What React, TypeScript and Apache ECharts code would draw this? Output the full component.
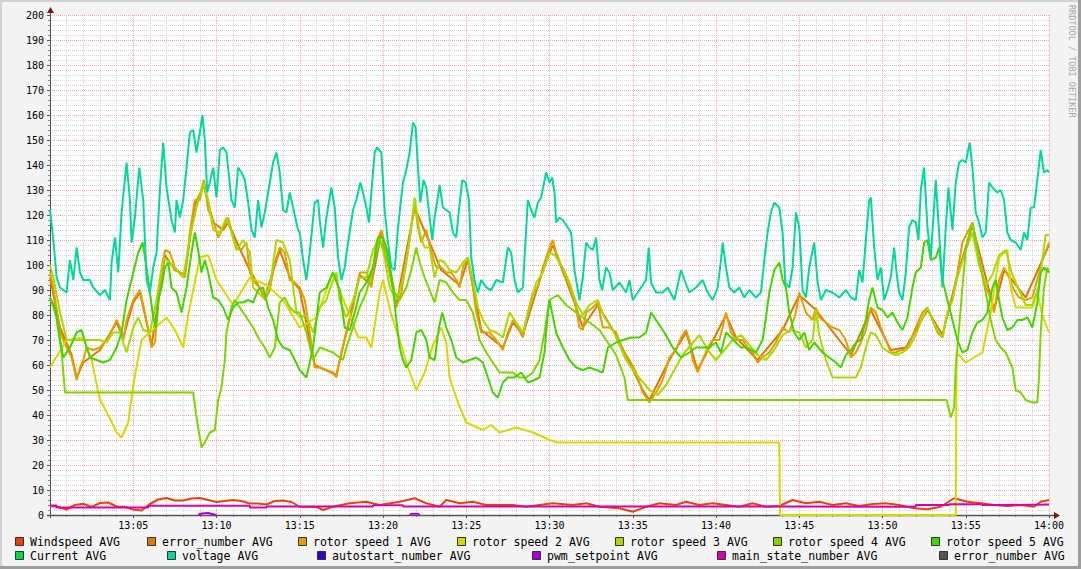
import React, { useEffect, useRef } from "react";
import * as echarts from "echarts";

type P = [number, number | string];

// time in minutes after 13:00, value
const windspeed: P[] = [[0,3.6],[0.5,3.2],[1,2.2],[1.5,4],[2,4.5],[2.5,3.2],[3,4.8],[3.5,5],[4,3.4],[4.5,3.2],[5,2.2],[5.5,1.8],[6,4.4],[6.5,6.2],[7,6.8],[7.5,5.8],[8,5.8],[8.5,6.6],[9,6.8],[9.5,6],[10,5.2],[10.5,5.6],[11,6],[11.5,5.6],[12,4.6],[12.5,4.6],[13,4.2],[13.5,5.6],[14,5.8],[14.5,5.2],[15,3.3],[16,3.2],[16.4,2],[17,3.3],[18,4.7],[19,5.3],[19.8,4],[21,5.3],[21.9,6.7],[22.6,4.7],[23.4,3.3],[23.8,6],[24.6,4.7],[25.4,5.3],[26.2,4],[27,4],[27.8,4],[28.6,3.3],[29.4,4],[30.2,4.7],[31.4,4],[32.2,4.7],[33,3.3],[34.2,2.7],[35,1.3],[35.8,3.3],[36.6,4.7],[37.6,4],[38.2,5.3],[39,4],[39.8,4.7],[40.6,4],[41.4,3.3],[42.2,4.7],[43,3.3],[43.8,3.6],[44.6,6],[45.4,4.7],[46.2,5.3],[47,4],[47.8,4.7],[48.6,3.6],[49.4,4.4],[50.2,4.7],[51,4],[51.9,2.7],[52.7,2.3],[53.5,3.3],[54.3,6.7],[55.1,5.3],[55.9,4.7],[56.7,4],[57.5,3.6],[58.3,4],[59.1,3.3],[59.5,5.3],[60,6]];

const errorNumber: P[] = [[0,95],[0.6,75],[1.3,64],[1.6,55],[2,61],[3,66],[4,77],[4.4,71],[5,85],[5.4,89],[6.1,68],[6.6,90],[6.9,104],[7.5,98],[8.1,96],[8.7,124],[9.24,132],[9.8,117],[10.4,114],[10.7,117],[11.5,105],[12,98],[12.9,87],[13.8,106],[14.4,95],[15,90],[15.9,60],[17.2,56],[18.6,96],[19.3,92],[19.9,113],[20.8,84],[21.9,123],[22.6,112],[23.5,98],[24.6,92],[25.1,102],[25.9,74],[27.2,67],[27.8,77],[28.4,72],[29.6,98],[30.2,108],[31.5,85],[32,75],[32.9,84],[34,72],[35.6,50],[36,46],[37.2,62],[38.2,73],[38.9,58],[40.6,80],[41.2,71],[42.5,62],[44,74],[45,88],[46,82],[48.1,64],[49.3,82],[50.5,66],[51.4,67],[52.7,82],[53.6,72],[54.5,96],[55.4,116],[56.7,82],[57.3,98],[58.6,87],[60,108]];

const rotor1: P[] = [[0,97],[0.2,91],[0.6,73],[1,67],[1.3,63],[1.6,54],[1.8,59],[2,62],[2.2,67],[2.6,66],[3,67],[3.4,70],[3.8,75],[4,78],[4.2,75],[4.4,70],[4.6,78],[5,86],[5.4,90],[5.7,81],[5.9,74],[6.1,67],[6.3,69],[6.6,91],[6.9,106],[7.2,105],[7.5,99],[7.8,97],[8.1,95],[8.4,113],[8.7,126],[9,126],[9.24,134],[9.5,122],[9.8,118],[10.1,111],[10.4,115],[10.7,119],[11,111],[11.2,107],[11.5,106],[11.8,109],[12,97],[12.3,93],[12.6,91],[12.9,86],[13.2,90],[13.5,101],[13.8,107],[14.1,105],[14.4,94],[14.7,93],[15,91],[15.3,86],[15.6,73],[15.9,59],[16.2,59],[16.6,58],[17,57],[17.2,55],[17.4,62],[17.8,73],[18.2,83],[18.6,97],[19,97],[19.3,91],[19.6,109],[19.9,114],[20.2,105],[20.5,94],[20.8,83],[21.1,89],[21.4,101],[21.7,115],[21.9,125],[22.1,115],[22.3,109],[22.6,114],[22.9,105],[23.2,99],[23.5,99],[23.8,97],[24.1,97],[24.4,94],[24.6,91],[24.8,99],[25.1,103],[25.4,91],[25.6,81],[25.9,73],[26.4,73],[26.8,70],[27.2,66],[27.5,73],[27.8,78],[28.1,75],[28.4,71],[28.7,81],[29,89],[29.3,91],[29.6,99],[30,107],[30.2,110],[30.4,105],[30.8,98],[31.2,91],[31.5,86],[31.8,75],[32,74],[32.2,81],[32.6,83],[32.9,85],[33.2,75],[33.6,75],[34,73],[34.4,66],[34.8,62],[35.2,57],[35.6,49],[36,45],[36.4,49],[36.8,54],[37.2,63],[37.6,66],[37.9,71],[38.2,74],[38.4,70],[38.6,62],[38.9,57],[39.2,62],[39.5,67],[39.8,70],[40.2,70],[40.4,75],[40.6,81],[40.9,73],[41.2,70],[41.6,70],[41.9,67],[42.2,65],[42.5,61],[42.8,63],[43.2,65],[43.6,69],[44,75],[44.4,73],[44.8,81],[45,89],[45.4,81],[45.8,78],[46,83],[46.2,79],[46.6,77],[47,75],[47.4,74],[47.8,70],[48.1,63],[48.4,65],[48.7,69],[49,74],[49.3,83],[49.6,81],[49.9,75],[50.2,70],[50.5,65],[50.8,65],[51.1,66],[51.4,66],[51.7,70],[52,75],[52.4,81],[52.7,83],[53,78],[53.3,73],[53.6,71],[53.9,81],[54.2,86],[54.5,97],[54.8,109],[55.1,113],[55.4,117],[55.6,109],[55.9,99],[56.2,91],[56.5,87],[56.7,81],[57,94],[57.3,99],[57.6,95],[57.9,90],[58.2,87],[58.6,86],[59,87],[59.3,94],[59.6,102],[59.9,107],[60,109]];

const rotor2: P[] = [[0,59],[1,70],[2,71],[2.5,62],[3,46],[3.5,40],[4,33],[4.3,31],[4.7,37],[5,52],[5.5,70],[6,73],[7,79],[7.5,74],[8,67],[8.3,80],[9,103],[9.5,104],[10,94],[11,84],[12,95],[13,92],[14,86],[15,75],[16,79],[17,97],[17.5,88],[18,80],[18.5,71],[19,71],[19.3,67],[19.8,89],[20,94],[20.5,80],[21,70],[21.5,59],[22,50],[22.5,57],[23,68],[23.5,75],[23.8,69],[24,55],[24.5,45],[25,37],[26,34],[26.5,36],[27,33],[28,35],[29,33],[29.7,31],[30,30],[30.5,29],[43.8,29],[43.85,0],[54.4,0],[54.45,65],[55,61],[56,65],[56.5,81],[57,103],[57.5,106],[57.7,91],[58,83],[59,83],[59.3,89],[59.6,80],[60,73]];

const rotor3: P[] = [[0,100],[0.2,95],[0.6,81],[1,70],[1.4,70],[2,70],[2.6,70],[3,70],[3.4,69],[3.8,73],[4.2,73],[4.6,65],[5,75],[5.3,79],[5.6,74],[6,73],[6.4,86],[6.8,103],[7.2,101],[7.6,98],[8,95],[8.4,111],[8.8,123],[9.2,133],[9.5,126],[9.8,114],[10.2,113],[10.6,119],[10.9,113],[11.2,106],[11.6,110],[12,105],[12.2,91],[12.8,87],[13.2,91],[13.6,110],[14,109],[14.4,102],[14.8,81],[15,79],[15.4,80],[15.8,73],[16.2,83],[16.6,86],[17,94],[17.2,97],[17.4,86],[17.8,79],[18.2,86],[18.6,95],[19,95],[19.4,106],[19.8,111],[20.1,103],[20.4,91],[20.8,86],[21.2,94],[21.6,110],[21.9,127],[22.2,113],[22.5,107],[22.8,107],[23.1,95],[23.4,102],[23.7,101],[24,98],[24.4,97],[24.8,101],[25.1,103],[25.4,94],[25.7,83],[26,78],[26.4,74],[26.8,73],[27.2,71],[27.6,81],[28,77],[28.4,73],[28.8,83],[29.2,93],[29.6,97],[30,105],[30.3,104],[30.8,99],[31.2,93],[31.6,85],[32,80],[32.4,84],[32.9,86],[33.3,79],[33.8,74],[34.2,68],[34.6,62],[35,58],[35.5,54],[36,50],[36.5,48],[37,52],[37.5,58],[38,64],[38.5,68],[39,72],[39.5,66],[40,62],[40.5,66],[41,70],[41.5,72],[42,68],[42.5,64],[43,62],[43.5,66],[44,72],[44.5,74],[45,73],[45.4,67],[45.8,70],[46,82],[46.2,72],[46.6,62],[47,55],[47.6,55],[48.4,55],[48.7,59],[49,67],[49.3,73],[49.6,72],[50,67],[50.4,65],[50.8,64],[51.2,65],[51.6,67],[52,72],[52.4,79],[52.7,83],[53,78],[53.4,73],[53.6,71],[53.9,81],[54.2,86],[54.5,95],[55,106],[55.4,113],[55.8,100],[56.2,92],[56.6,96],[57,104],[57.4,106],[57.8,96],[58.2,90],[58.6,84],[59,84],[59.4,92],[59.8,112],[60,112]];

const rotor4: P[] = [[0,87],[0.4,79],[0.7,65],[0.9,49],[8.6,49],[8.8,39],[9.1,27],[9.3,29],[9.6,33],[9.9,34],[10.1,46],[10.3,51],[10.5,62],[10.6,73],[10.9,83],[11.1,86],[11.4,83],[11.8,79],[12.2,75],[12.5,71],[12.9,67],[13.2,63],[13.5,67],[13.8,85],[14.1,87],[14.4,83],[14.7,81],[15,81],[15.4,73],[15.8,62],[16.2,67],[16.6,66],[17,65],[17.4,63],[17.6,62],[17.8,67],[18.2,75],[18.6,83],[19,89],[19.4,99],[19.8,110],[20.1,106],[20.4,99],[20.7,89],[21,86],[21.4,91],[21.7,98],[22,107],[22.2,101],[22.5,95],[22.8,90],[23.1,85],[23.4,94],[23.8,93],[24.2,89],[24.6,86],[25,86],[25.4,81],[25.8,70],[26.2,65],[26.6,61],[27,57],[27.4,57],[27.8,57],[28.2,55],[28.6,55],[29,57],[29.4,62],[29.7,73],[30,86],[30.5,88],[31,84],[32,79],[33,74],[34,64],[34.5,55],[34.7,46],[53.85,46],[54.1,39],[54.3,43],[54.4,59],[54.8,91],[55,106],[55.3,115],[55.4,117],[55.6,110],[55.9,99],[56.2,89],[56.5,78],[56.8,70],[57.1,67],[57.4,65],[57.8,59],[58,50],[58.3,49],[58.6,46],[59,45],[59.3,45],[59.4,55],[59.5,73],[59.7,91],[59.9,99],[60,97]];

const rotor5: P[] = [[0,87],[0.3,83],[0.6,70],[0.8,63],[1.2,67],[1.6,73],[1.9,74],[2.2,67],[2.4,63],[2.8,62],[3.2,61],[3.6,62],[4,67],[4.3,73],[4.6,86],[5,97],[5.3,105],[5.56,109],[5.8,99],[6,89],[6.2,79],[6.36,75],[6.5,86],[6.7,91],[6.9,99],[7.1,101],[7.3,91],[7.6,89],[7.9,81],[8.2,91],[8.5,105],[8.7,113],[8.9,106],[9.1,97],[9.3,102],[9.5,97],[9.8,87],[10.1,86],[10.4,83],[10.7,78],[11,83],[11.3,85],[11.6,85],[11.9,86],[12.2,85],[12.5,90],[12.8,91],[13.1,83],[13.4,78],[13.7,70],[14,67],[14.4,66],[14.7,62],[15,58],[15.4,55],[15.8,67],[16.2,89],[16.6,91],[17,97],[17.4,90],[17.7,75],[18,74],[18.3,81],[18.6,89],[19,93],[19.4,99],[19.7,111],[20,111],[20.3,105],[20.6,91],[20.8,78],[21,67],[21.2,62],[21.4,59],[21.7,62],[22,73],[22.3,74],[22.6,70],[22.8,63],[23.1,62],[23.36,75],[23.56,81],[23.8,75],[24.1,70],[24.4,63],[24.8,61],[25.2,62],[25.6,63],[26,61],[26.3,55],[26.6,49],[26.9,47],[27.2,53],[27.5,55],[27.9,55],[28.3,57],[28.7,53],[29.1,54],[29.4,55],[29.7,65],[29.9,81],[30,86],[30.4,73],[30.8,67],[31.2,62],[31.6,59],[32,58],[32.4,59],[32.8,58],[33.2,57],[33.5,67],[34,69],[34.4,70],[34.9,71],[35.4,71],[35.8,73],[36.1,81],[36.4,78],[36.9,73],[37.4,67],[37.9,63],[38.4,65],[38.8,67],[39.6,67],[40,69],[40.3,65],[40.6,73],[40.9,71],[41.2,69],[41.5,67],[41.8,67],[42.1,66],[42.4,65],[42.8,70],[43,79],[43.2,89],[43.5,98],[43.8,101],[44,94],[44.2,91],[44.4,81],[44.7,73],[45,70],[45.3,73],[45.6,66],[45.9,69],[46.4,65],[46.8,63],[47.2,61],[47.5,59],[47.8,64],[48.1,66],[48.4,69],[48.7,70],[49,78],[49.2,86],[49.4,91],[49.7,83],[50,82],[50.3,79],[50.6,81],[50.9,77],[51.2,74],[51.5,79],[51.8,91],[52,97],[52.3,99],[52.5,109],[52.7,110],[52.9,102],[53.2,103],[53.4,107],[53.6,94],[53.9,86],[54.2,78],[54.5,70],[54.8,65],[55.1,66],[55.4,73],[55.7,77],[56,78],[56.3,81],[56.6,91],[56.8,94],[57,86],[57.2,79],[57.5,74],[57.8,75],[58.1,78],[58.4,78],[58.7,79],[59,75],[59.3,85],[59.5,97],[59.7,99],[60,97]];

const current: P[] = [];

const voltage: P[] = [[0,122],[0.2,110],[0.4,95],[0.6,91],[1,89],[1.1,96],[1.2,102],[1.4,94],[1.6,107],[1.8,97],[2,94],[2.4,94],[2.6,91],[3,88],[3.3,90],[3.6,86],[3.7,101],[3.9,111],[4.1,97],[4.3,121],[4.6,141],[4.8,126],[4.9,109],[5.1,119],[5.36,139],[5.6,126],[5.8,94],[6,89],[6.2,99],[6.4,105],[6.6,130],[6.8,149],[7,131],[7.3,118],[7.5,113],[7.6,126],[7.8,119],[8,126],[8.2,139],[8.4,153],[8.6,154],[8.8,145],[9,153],[9.16,160],[9.3,150],[9.44,129],[9.6,133],[9.8,139],[10,127],[10.2,146],[10.4,147],[10.6,145],[10.9,126],[11.1,123],[11.3,139],[11.5,137],[11.7,134],[11.9,125],[12.1,114],[12.3,111],[12.5,126],[12.7,115],[12.9,121],[13.2,133],[13.4,141],[13.6,145],[13.8,137],[14,122],[14.2,121],[14.4,129],[14.6,123],[14.9,114],[15,113],[15.2,102],[15.4,94],[15.6,105],[15.9,125],[16.1,126],[16.2,118],[16.4,107],[16.6,119],[16.9,131],[17.1,123],[17.3,103],[17.5,94],[17.7,99],[17.9,109],[18.2,122],[18.4,126],[18.64,133],[18.8,129],[19,123],[19.16,117],[19.3,129],[19.5,145],[19.64,147],[19.9,145],[20.1,122],[20.3,109],[20.5,99],[20.7,98],[20.9,115],[21.2,133],[21.4,138],[21.6,145],[21.8,157],[21.96,155],[22.1,139],[22.24,125],[22.44,134],[22.6,131],[22.8,119],[22.96,110],[23.1,119],[23.4,132],[23.6,123],[23.8,122],[24,121],[24.2,113],[24.4,111],[24.56,122],[24.76,134],[24.96,133],[25.16,126],[25.3,103],[25.5,94],[25.7,89],[25.9,94],[26.2,91],[26.5,90],[26.8,94],[27.2,93],[27.5,107],[27.7,105],[27.9,94],[28.1,89],[28.4,91],[28.7,126],[28.9,122],[29.1,119],[29.3,125],[29.5,127],[29.8,137],[30,133],[30.16,135],[30.3,129],[30.4,117],[30.6,119],[30.8,118],[31.1,115],[31.3,113],[31.5,98],[31.8,86],[32,95],[32.2,109],[32.4,107],[32.6,106],[32.8,111],[33,94],[33.16,90],[33.4,99],[33.6,97],[33.8,90],[34.2,93],[34.6,89],[34.8,94],[35,86],[35.4,90],[35.8,94],[35.96,107],[36.1,93],[36.4,89],[36.8,89],[37.1,91],[37.5,86],[37.9,98],[38.1,94],[38.4,89],[38.8,91],[39.2,94],[39.5,89],[39.8,86],[40.1,91],[40.3,102],[40.4,109],[40.6,99],[40.8,91],[41.1,89],[41.4,91],[41.7,87],[42,90],[42.4,87],[42.7,89],[42.9,102],[43.1,113],[43.3,121],[43.5,125],[43.8,123],[44,113],[44.16,93],[44.4,91],[44.6,99],[44.8,121],[45,115],[45.2,90],[45.4,87],[45.6,99],[45.9,109],[46.1,93],[46.3,86],[46.6,90],[47,89],[47.4,87],[47.8,90],[48.1,87],[48.4,86],[48.6,98],[48.8,93],[49,110],[49.2,126],[49.3,127],[49.5,107],[49.7,94],[49.9,99],[50.1,86],[50.3,90],[50.5,95],[50.7,107],[50.84,97],[51,89],[51.2,86],[51.4,97],[51.6,115],[51.8,118],[52,117],[52.16,110],[52.3,130],[52.5,139],[52.7,115],[52.9,103],[53.2,134],[53.4,113],[53.6,91],[53.8,115],[53.96,131],[54.2,114],[54.4,133],[54.6,141],[54.8,142],[55,141],[55.24,149],[55.4,139],[55.6,121],[55.8,117],[56,111],[56.2,113],[56.4,133],[56.6,131],[56.9,129],[57.1,130],[57.3,126],[57.5,113],[57.7,110],[58,109],[58.3,106],[58.5,113],[58.7,110],[58.9,123],[59.1,123],[59.3,134],[59.5,146],[59.7,137],[59.9,138],[60,137]];

const autostart: P[] = [];

const pwmSetpoint: P[] = [[8.9,0],[9.1,0.6],[9.5,0.8],[9.8,0.3],[10,0],[15,"-"],[21.6,0],[21.7,0.5],[22.1,0.5],[22.2,0]];

const mainState: P[] = [[0,3.8],[0.4,3.0],[5.9,3.7],[12.0,3.0],[13.0,3.4],[19.4,3.9],[21.2,3.4],[36,3.3],[52,4.0],[54,4.3],[56,4.0],[57.4,4.2],[60,4.2]];

const errorNumber2: P[] = [];

const seriesNames = ["Windspeed AVG","error_number AVG","rotor speed 1 AVG","rotor speed 2 AVG","rotor speed 3 AVG","rotor speed 4 AVG","rotor speed 5 AVG","Current AVG","voltage AVG","autostart_number AVG","pwm_setpoint AVG","main_state_number AVG","error_number AVG"];
const seriesColors = ["#e8400c","#dd7700","#e0a000","#d8d800","#aad800","#80d400","#44d400","#00dd44","#00d8a0","#3300dd","#aa00dd","#dd00aa","#555555"];
const seriesData: P[][] = [windspeed,errorNumber,rotor1,rotor2,rotor3,rotor4,rotor5,current,voltage,autostart,pwmSetpoint,mainState,errorNumber2];

// legend layout (swatch x, row)
const legendPos: [number, number][] = [[15,0],[147,0],[298,0],[457,0],[615,0],[773,0],[931,0],[15,1],[167,1],[317,1],[532,1],[717,1],[939,1]];

const MONO = '"DejaVu Sans Mono", monospace';

function fmtTime(v: number): string {
  if (v === 0) return "";
  if (v === 60) return "14:00";
  return "13:" + String(v).padStart(2, "0");
}

export default function App() {
  const ref = useRef<HTMLDivElement>(null);
  useEffect(() => {
    if (!ref.current) return;
    const chart = echarts.init(ref.current, undefined, { renderer: "svg" });
    const graphics: any[] = [
      { type: "rect", shape: { x: 0, y: 0, width: 1081, height: 2 }, style: { fill: "#d2d2d2" }, silent: true },
      { type: "rect", shape: { x: 0, y: 0, width: 2, height: 569 }, style: { fill: "#d2d2d2" }, silent: true },
      { type: "rect", shape: { x: 1078, y: 0, width: 3, height: 569 }, style: { fill: "#9e9e9e" }, silent: true },
      { type: "rect", shape: { x: 0, y: 566, width: 1081, height: 3 }, style: { fill: "#9e9e9e" }, silent: true },
      { type: "line", z: 1, shape: { x1: 50.5, y1: 518, x2: 50.5, y2: 12 }, style: { stroke: "#555", lineWidth: 1 } },
      { type: "line", z: 1, shape: { x1: 47, y1: 515.5, x2: 1055, y2: 515.5 }, style: { stroke: "#555", lineWidth: 1.5 } },
      { type: "polygon", z: 1, shape: { points: [[47, 13], [54, 13], [50.5, 7]] }, style: { fill: "#7f1414" } },
      { type: "polygon", z: 1, shape: { points: [[1054, 512], [1054, 519], [1060, 515.5]] }, style: { fill: "#7f1414" } },
      { type: "text", x: 1076, y: 5, rotation: -Math.PI / 2, style: { text: "RRDTOOL / TOBI OETIKER", fill: "#a8a8a8", font: "8.5px " + MONO, textAlign: "left", textVerticalAlign: "top" } },
    ];
    seriesNames.forEach((name, i) => {
      const [sx, row] = legendPos[i];
      const sy = row === 0 ? 537 : 551;
      graphics.push({ type: "rect", shape: { x: sx + 0.5, y: sy + 0.5, width: 8, height: 8 }, style: { fill: seriesColors[i], stroke: "#333", lineWidth: 1 } });
      graphics.push({ type: "text", x: sx + 15, y: sy + 5, style: { text: name, fill: "#000", font: "11.5px " + MONO, textAlign: "left", textVerticalAlign: "middle" } });
    });

    const option: any = {
      animation: false,
      backgroundColor: "#f3f3f3",
      grid: { left: 50, right: 32, top: 15, bottom: 54, show: true, backgroundColor: "#ffffff", borderWidth: 0 },
      xAxis: {
        type: "value", min: 0, max: 60, interval: 5,
        axisLine: { show: false },
        axisTick: { show: true, length: 3, lineStyle: { color: "#555" } },
        minorTick: { show: true, splitNumber: 5, length: 2, lineStyle: { color: "#888" } },
        splitLine: { show: true, lineStyle: { color: "#f0aaaa", type: [1, 1], width: 1 } },
        minorSplitLine: { show: true, lineStyle: { color: "#d6d6d6", type: [1, 1], width: 1 } },
        axisLabel: { formatter: fmtTime, color: "#000", fontFamily: MONO, fontSize: 10, margin: 5 },
      },
      yAxis: {
        type: "value", min: 0, max: 200, interval: 10,
        axisLine: { show: false },
        axisTick: { show: true, length: 3, lineStyle: { color: "#555" } },
        minorTick: { show: true, splitNumber: 5, length: 2, lineStyle: { color: "#888" } },
        splitLine: { show: true, lineStyle: { color: "#f0aaaa", type: [1, 1], width: 1 } },
        minorSplitLine: { show: true, lineStyle: { color: "#d6d6d6", type: [1, 1], width: 1 } },
        axisLabel: { color: "#000", fontFamily: MONO, fontSize: 10, margin: 6 },
      },
      graphic: graphics,
      series: seriesData.map((d, i) => ({
        type: "line",
        name: seriesNames[i],
        data: d,
        showSymbol: false,
        symbol: "none",
        silent: true,
        connectNulls: false,
        step: i === 11 ? "end" : false,
        lineStyle: { color: seriesColors[i], width: 2 },
        itemStyle: { color: seriesColors[i] },
      })),
    };
    chart.setOption(option);
    return () => chart.dispose();
  }, []);
  return <div ref={ref} style={{ position: "absolute", left: 0, top: 0, width: 1081, height: 569 }} />;
}
